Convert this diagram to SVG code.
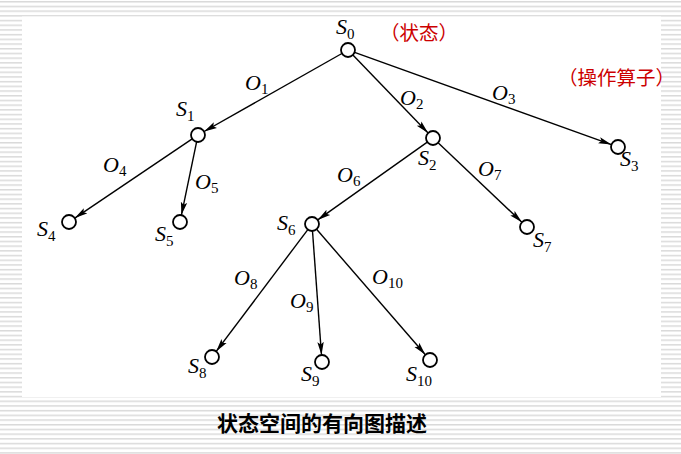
<svg xmlns="http://www.w3.org/2000/svg" width="681" height="454" viewBox="0 0 681 454">
<defs>
<pattern id="stripes" x="0" y="1" width="8" height="4.7" patternUnits="userSpaceOnUse">
<rect x="0" y="0" width="8" height="1.5" fill="#dadada"/>
</pattern>
<marker id="arr" markerUnits="userSpaceOnUse" markerWidth="14" markerHeight="8" refX="13" refY="4" orient="auto">
<path d="M0,0.8 L13,4 L0,7.2 L2.5,4 z" fill="#000"/>
</marker>
<style>
.edge{stroke:#000;stroke-width:1.4;fill:none;marker-end:url(#arr)}
.node{fill:#fff;stroke:#000;stroke-width:1.8}
.lbl{font-family:"Liberation Serif",serif;font-style:italic;font-size:22px;fill:#000}
.sub{font-style:normal;font-size:15px}
.red{font-family:"Noto Sans CJK SC",sans-serif;font-size:19.5px;fill:#cc0000}
.cap{font-family:"Noto Sans CJK SC",sans-serif;font-size:21px;font-weight:bold;fill:#000}
</style>
</defs>
<rect width="681" height="454" fill="#fff"/>
<rect width="681" height="454" fill="url(#stripes)"/>
<rect x="22" y="16.5" width="639" height="380.5" fill="#fff"/>
<g id="connectors">
<line class="edge" x1="341.9" y1="53.5" x2="204.1" y2="131.5"/>
<line class="edge" x1="352.9" y1="55" x2="428.1" y2="133"/>
<line class="edge" x1="354.6" y1="52.4" x2="611.4" y2="144.6"/>
<line class="edge" x1="192.2" y1="138.9" x2="74.8" y2="218.1"/>
<line class="edge" x1="196.6" y1="141.9" x2="181.4" y2="215.1"/>
<line class="edge" x1="427.3" y1="142.1" x2="317.7" y2="219.9"/>
<line class="edge" x1="438.1" y1="142.8" x2="521.9" y2="222.2"/>
<line class="edge" x1="307.8" y1="229.6" x2="216.2" y2="351.4"/>
<line class="edge" x1="312.5" y1="231" x2="321.5" y2="355"/>
<line class="edge" x1="316.6" y1="229.3" x2="425.4" y2="354.7"/>
</g>
<g id="edge-labels">
<text class="lbl" x="245" y="90">O<tspan class="sub" dy="4">1</tspan></text>
<text class="lbl" x="400" y="105">O<tspan class="sub" dy="4">2</tspan></text>
<text class="lbl" x="492" y="100">O<tspan class="sub" dy="4">3</tspan></text>
<text class="lbl" x="103" y="172">O<tspan class="sub" dy="4">4</tspan></text>
<text class="lbl" x="195" y="189">O<tspan class="sub" dy="4">5</tspan></text>
<text class="lbl" x="337" y="182">O<tspan class="sub" dy="4">6</tspan></text>
<text class="lbl" x="478" y="176">O<tspan class="sub" dy="4">7</tspan></text>
<text class="lbl" x="234" y="285">O<tspan class="sub" dy="4">8</tspan></text>
<text class="lbl" x="290" y="308">O<tspan class="sub" dy="4">9</tspan></text>
<text class="lbl" x="372" y="284">O<tspan class="sub" dy="4">10</tspan></text>
</g>
<g id="S0"><circle class="node" cx="348" cy="50" r="7"/><text class="lbl" x="336" y="34">S<tspan class="sub" dy="5">0</tspan></text></g>
<g id="S1"><circle class="node" cx="198" cy="135" r="7"/><text class="lbl" x="176" y="116">S<tspan class="sub" dy="5">1</tspan></text></g>
<g id="S2"><circle class="node" cx="433" cy="138" r="7"/><text class="lbl" x="418" y="165">S<tspan class="sub" dy="5">2</tspan></text></g>
<g id="S3"><circle class="node" cx="618" cy="147" r="7"/><text class="lbl" x="620" y="166">S<tspan class="sub" dy="5">3</tspan></text></g>
<g id="S4"><circle class="node" cx="69" cy="222" r="7"/><text class="lbl" x="37" y="236">S<tspan class="sub" dy="5">4</tspan></text></g>
<g id="S5"><circle class="node" cx="180" cy="222" r="7"/><text class="lbl" x="155" y="241">S<tspan class="sub" dy="5">5</tspan></text></g>
<g id="S6"><circle class="node" cx="312" cy="224" r="7"/><text class="lbl" x="277" y="230">S<tspan class="sub" dy="5">6</tspan></text></g>
<g id="S7"><circle class="node" cx="527" cy="227" r="7"/><text class="lbl" x="533" y="247">S<tspan class="sub" dy="5">7</tspan></text></g>
<g id="S8"><circle class="node" cx="212" cy="357" r="7"/><text class="lbl" x="188" y="373">S<tspan class="sub" dy="5">8</tspan></text></g>
<g id="S9"><circle class="node" cx="322" cy="362" r="7"/><text class="lbl" x="301" y="381">S<tspan class="sub" dy="5">9</tspan></text></g>
<g id="S10"><circle class="node" cx="430" cy="360" r="7"/><text class="lbl" x="406" y="381">S<tspan class="sub" dy="5">10</tspan></text></g>
<text class="red" x="380" y="40">（状态）</text>
<text class="red" x="558" y="85">（操作算子）</text>
<text class="cap" x="322" y="431" text-anchor="middle">状态空间的有向图描述</text>
</svg>
